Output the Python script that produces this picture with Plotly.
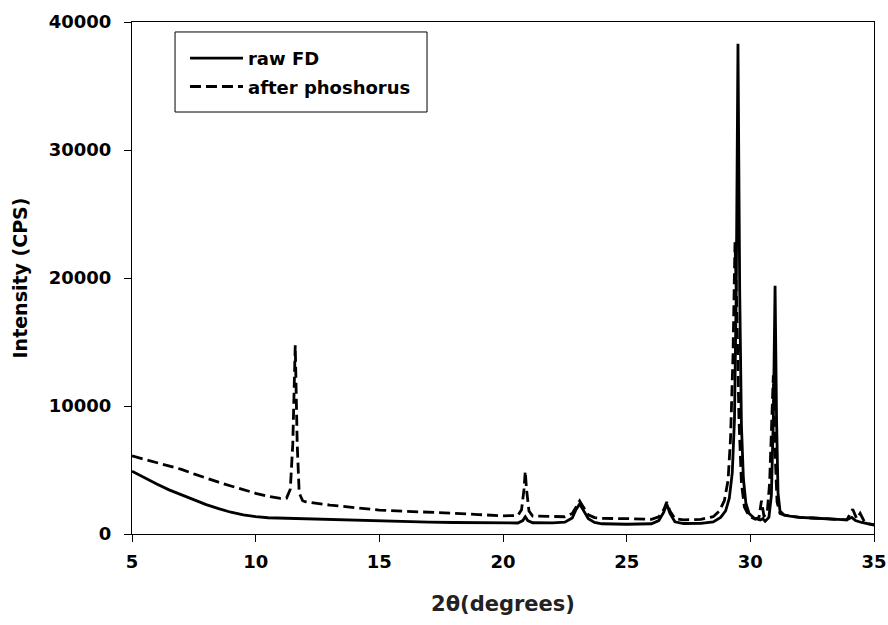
import plotly.graph_objects as go

# ---- data ----
raw_x = [5.0, 5.25, 5.5, 6.0, 6.5, 7.0, 7.5, 8.0, 8.5, 9.0, 9.5, 10.0, 10.5, 11.0, 12.0, 13.0, 14.0,
         15.0, 16.0, 17.0, 18.0, 19.0, 20.0, 20.6, 20.8, 20.9, 21.0, 21.2, 22.0, 22.5, 22.8, 22.95,
         23.1, 23.25, 23.45, 23.7, 24.0, 25.0, 26.0, 26.3, 26.5, 26.62, 26.75, 26.95, 27.3, 28.0,
         28.5, 28.8, 29.0, 29.15, 29.27, 29.36, 29.43, 29.5, 29.57, 29.64, 29.72, 29.82, 29.95,
         30.15, 30.4, 30.5, 30.6, 30.75, 30.85, 30.93, 31.0, 31.06, 31.12, 31.2, 31.35, 31.6, 32.0,
         32.5, 33.0, 33.5, 33.9, 34.1, 34.25, 34.5, 34.8, 35.0]
raw_y = [4900, 4650, 4350, 3900, 3450, 3050, 2650, 2300, 1980, 1700, 1500, 1350, 1270, 1240, 1200,
         1130, 1060, 1000, 960, 930, 900, 880, 860, 860, 1050, 1350, 1050, 880, 870, 920, 1250, 1900,
         2350, 1900, 1200, 900, 800, 760, 800, 1050, 1700, 2350, 1600, 950, 820, 830, 950, 1300,
         1800, 2800, 4800, 9000, 19000, 38300, 19000, 8500, 4300, 2400, 1600, 1250, 1100, 1200, 1000,
         1300, 3000, 9000, 19400, 9000, 3200, 1800, 1500, 1400, 1300, 1250, 1200, 1180, 1100, 1300,
         1050, 900, 780, 700]

phos_x = [5.0, 5.5, 6.0, 6.5, 7.0, 7.5, 8.0, 8.5, 9.0, 9.5, 10.0, 10.5, 11.0, 11.25, 11.4, 11.5,
          11.6, 11.68, 11.76, 11.9, 12.0, 13.0, 14.0, 15.0, 16.0, 17.0, 18.0, 19.0, 20.0, 20.6,
          20.75, 20.85, 20.9, 20.95, 21.05, 21.2, 22.0, 22.5, 22.8, 22.95, 23.1, 23.25, 23.45,
          23.7, 24.0, 25.0, 26.0, 26.3, 26.5, 26.62, 26.75, 26.95, 27.3, 28.0, 28.5, 28.75, 28.95,
          29.1, 29.2, 29.3, 29.38, 29.46, 29.54, 29.64, 29.76, 29.95, 30.2, 30.35, 30.45, 30.55,
          30.68, 30.78, 30.86, 30.93, 31.0, 31.08, 31.2, 31.4, 31.6, 32.0, 32.5, 33.0, 33.5, 33.9,
          34.14, 34.3, 34.44, 34.6, 34.8, 35.0]
phos_y = [6100, 5850, 5600, 5300, 5050, 4700, 4350, 4050, 3750, 3450, 3180, 2950, 2780, 2800, 3500,
          7000, 14750, 7000, 3200, 2600, 2520, 2260, 2050, 1870, 1780, 1720, 1620, 1520, 1420, 1450,
          1900, 3500, 4900, 3500, 1800, 1400, 1350, 1350, 1600, 2100, 2580, 2100, 1500, 1280, 1220,
          1200, 1150, 1350, 1900, 2500, 1800, 1200, 1100, 1150, 1350, 1800, 2600, 4200, 7500, 14000,
          22800, 17000, 9000, 4000, 2100, 1400, 1150, 1300, 2600, 1400, 1600, 4000, 8000, 12400,
          6500, 2500, 1600, 1450, 1400, 1300, 1250, 1200, 1150, 1100, 1930, 1200, 1610, 1000, 800,
          720]

series_names = ["raw FD", "after phoshorus"]
x_ticks = [5, 10, 15, 20, 25, 30, 35]
y_ticks = [0, 10000, 20000, 30000, 40000]

BOLD = dict(family="DejaVu Sans, sans-serif", size=18, color="black", weight="bold")

fig = go.Figure()
fig.add_trace(go.Scatter(x=raw_x, y=raw_y, mode="lines", name=series_names[0],
                         legendgroup="a",
                         line=dict(color="black", width=2.8)))
fig.add_trace(go.Scatter(x=phos_x, y=phos_y, mode="lines", name=series_names[1],
                         legendgroup="b",
                         line=dict(color="black", width=2.8, dash="11px,5px")))

axis_common = dict(showline=True, linecolor="black", linewidth=1, mirror=True,
                   ticks="outside", ticklen=7, tickcolor="black", tickwidth=1,
                   showgrid=False, zeroline=False, tickfont=BOLD)

fig.update_xaxes(range=[5, 35], tickvals=x_ticks, ticktext=[str(v) for v in x_ticks],
                 ticklabelstandoff=4,
                 title=dict(text="2θ(degrees)",
                            font=dict(family="DejaVu Sans, sans-serif", size=21, color="#222",
                                      weight="bold"),
                            standoff=25),
                 **axis_common)
fig.update_yaxes(range=[0, 40000], tickvals=y_ticks, ticktext=[str(v) for v in y_ticks],
                 ticklabelstandoff=9,
                 title=dict(text="Intensity (CPS)",
                            font=dict(family="DejaVu Sans, sans-serif", size=19,
                                      color="black", weight="bold"),
                            standoff=16),
                 **axis_common)

# legend frame (drawn as a box so that its padding matches the reference)
fig.add_shape(type="rect", xref="paper", yref="paper",
              x0=0.058, x1=0.3976, y0=0.8242, y1=0.9805,
              line=dict(color="black", width=1), fillcolor="rgba(0,0,0,0)", layer="above")

fig.update_layout(
    width=888, height=625,
    margin=dict(l=132, r=14, t=22, b=91, autoexpand=False),
    paper_bgcolor="white", plot_bgcolor="white",
    showlegend=True,
    legend=dict(x=0.0714, y=0.965, xanchor="left", yanchor="top",
                borderwidth=0, bgcolor="rgba(0,0,0,0)",
                font=BOLD, traceorder="grouped", tracegroupgap=2,
                itemwidth=53),
)

fig.write_html("out.html")
